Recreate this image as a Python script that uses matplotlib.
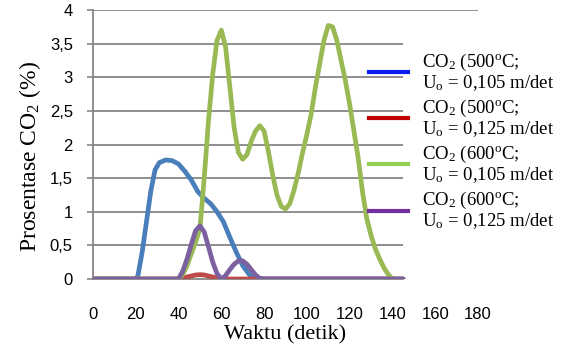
import matplotlib
matplotlib.use("Agg")
import matplotlib.pyplot as plt
from matplotlib.lines import Line2D

plt.rcParams["font.family"] = ["Liberation Serif", "DejaVu Serif"]
plt.rcParams["mathtext.fontset"] = "custom"
plt.rcParams["mathtext.rm"] = "Liberation Serif"
plt.rcParams["mathtext.it"] = "Liberation Serif:italic"

# readings (time in s, CO2 in %)
blue_x = [0, 10, 20, 21, 23, 25, 27, 29, 31, 34, 37, 40, 43, 46, 49, 52, 55, 58,
          61, 64, 67, 70, 73, 76, 80, 90, 100, 110, 120, 130, 140, 145]
blue_y = [0, 0, 0, 0.05, 0.4, 0.85, 1.3, 1.62, 1.73, 1.77, 1.76, 1.71, 1.6, 1.47,
          1.3, 1.2, 1.12, 1.0, 0.85, 0.62, 0.4, 0.2, 0.07, 0, 0, 0, 0, 0, 0, 0, 0, 0]

red_x = [0, 10, 20, 30, 40, 44, 48, 50, 52, 56, 60, 70, 80, 90, 100, 110, 120, 130, 140, 145]
red_y = [0, 0, 0, 0, 0, 0.03, 0.06, 0.065, 0.06, 0.03, 0, 0, 0, 0, 0, 0, 0, 0, 0, 0]

green_x = [0, 10, 20, 30, 40, 42, 44, 46, 48, 50, 52, 54, 56, 58, 60, 62, 64, 66, 68,
           70, 72, 74, 76, 78, 80, 82, 84, 86, 88, 90, 92, 94, 96, 98, 100, 102, 104,
           106, 108, 110, 112, 114, 116, 118, 120, 122, 124, 126, 128, 130, 132, 134,
           136, 138, 140]
green_y = [0, 0, 0, 0, 0, 0.07, 0.2, 0.38, 0.55, 0.75, 1.5, 2.35, 3.05, 3.55, 3.7,
           3.45, 2.85, 2.25, 1.88, 1.78, 1.85, 2.05, 2.2, 2.28, 2.2, 1.9, 1.55, 1.25,
           1.08, 1.04, 1.12, 1.32, 1.58, 1.88, 2.15, 2.45, 2.85, 3.2, 3.55, 3.77, 3.75,
           3.55, 3.25, 2.95, 2.6, 2.2, 1.8, 1.3, 0.9, 0.65, 0.45, 0.3, 0.17, 0.07, 0]

purple_x = [0, 10, 20, 30, 40, 42, 44, 46, 48, 50, 52, 54, 56, 58, 60, 62, 64, 66, 68,
            70, 72, 74, 76, 78, 80, 90, 100, 110, 120, 130, 140, 145]
purple_y = [0, 0, 0, 0, 0, 0.12, 0.3, 0.52, 0.72, 0.79, 0.7, 0.48, 0.25, 0.08, 0,
            0.05, 0.14, 0.22, 0.27, 0.27, 0.22, 0.14, 0.06, 0.01, 0, 0, 0, 0, 0, 0, 0, 0]

labels = [
    "CO$_{2}$ (500$^{\\mathrm{o}}$C;\nU$_{\\mathrm{o}}$ = 0,105 m/det",
    "CO$_{2}$ (500$^{\\mathrm{o}}$C;\nU$_{\\mathrm{o}}$ = 0,125 m/det",
    "CO$_{2}$ (600$^{\\mathrm{o}}$C;\nU$_{\\mathrm{o}}$ = 0,105 m/det",
    "CO$_{2}$ (600$^{\\mathrm{o}}$C;\nU$_{\\mathrm{o}}$ = 0,125 m/det",
]
line_colors = ["#4a7ebb", "#be4b48", "#98b954", "#7d60a0"]
legend_colors = ["#0a1ef0", "#c00000", "#92d050", "#7030a0"]

y_ticks = [0, 0.5, 1, 1.5, 2, 2.5, 3, 3.5, 4]
y_ticklabels = ["0", "0,5", "1", "1,5", "2", "2,5", "3", "3,5", "4"]
x_ticks = [0, 20, 40, 60, 80, 100, 120, 140, 160, 180]

fig = plt.figure(figsize=(5.68, 3.46), dpi=100)
ax = fig.add_axes([0.1637, 0.1936, 0.6778, 0.7775])

grid_c = "#868686"
ax.hlines(y_ticks[1:-1], 0, 145, color=grid_c, lw=1.3, zorder=1)
ax.hlines(y_ticks[-1], 0, 180, color=grid_c, lw=1.3, zorder=1)

series = [(blue_x, blue_y), (red_x, red_y), (green_x, green_y), (purple_x, purple_y)]
for (xs, ys), c in zip(series, line_colors):
    ax.plot(xs, ys, color=c, lw=3.4, solid_capstyle="round", solid_joinstyle="round", zorder=3)

ax.set_xlim(0, 180)
ax.set_ylim(0, 4)
for s in ["top", "right"]:
    ax.spines[s].set_visible(False)
ax.spines["bottom"].set_bounds(0, 145)
ax.spines["bottom"].set_color(grid_c)
ax.spines["left"].set_color(grid_c)
ax.spines["bottom"].set_linewidth(1.3)
ax.spines["left"].set_linewidth(1.3)

ax.set_xticks(x_ticks)
ax.set_xticks(x_ticks[:8], minor=True)
ax.set_yticks(y_ticks)
ax.set_yticklabels(y_ticklabels)
ax.tick_params(axis="x", which="major", length=0, pad=20)
ax.tick_params(axis="x", which="minor", length=4.5, width=1.2, color=grid_c)
ax.tick_params(axis="y", length=4.5, width=1.2, color=grid_c, pad=10)
for t in ax.get_xticklabels() + ax.get_yticklabels():
    t.set_fontfamily("Liberation Sans")
    t.set_fontsize(12)

ax.set_xlabel("Waktu (detik)", fontsize=16)
ax.xaxis.set_label_coords(0.499, -0.17)
ax.set_ylabel("Prosentase CO$_{2}$ (%)", fontsize=17)
ax.yaxis.set_label_coords(-0.13, 0.455)

handles = [Line2D([], [], color=c, lw=3) for c in legend_colors]
leg = ax.legend(handles, labels, loc="upper left", bbox_to_anchor=(0.717, 0.845),
                frameon=False, fontsize=13.5, handlelength=2.1, handletextpad=0.75,
                labelspacing=0.28, borderaxespad=0, borderpad=0)
for t in leg.get_texts():
    t.set_linespacing(1.0)

fig.savefig("out.png", dpi=100)
